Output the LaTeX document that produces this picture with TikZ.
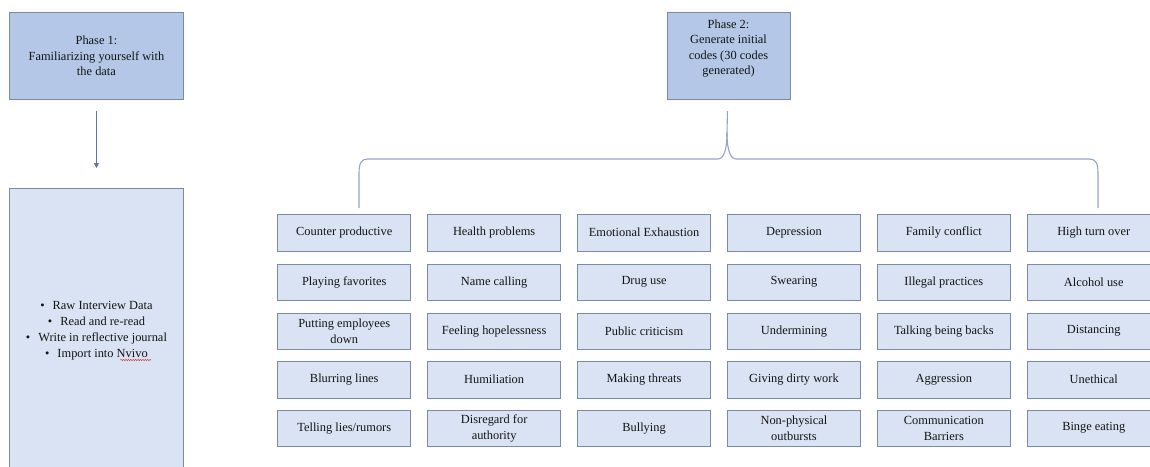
\documentclass[tikz,border=0pt]{standalone}
\usepackage{fontspec}
\setmainfont{Liberation Serif}
\newfontfamily\labelfont{Liberation Serif}
\usetikzlibrary{arrows.meta,decorations.pathmorphing,calc}
\definecolor{phasefill}{HTML}{B4C7E7}
\definecolor{codefill}{HTML}{DAE3F3}
\definecolor{boxline}{HTML}{7A8BA5}
\definecolor{braceline}{HTML}{93A5C2}
\definecolor{arrowline}{HTML}{5877AA}
\definecolor{inktext}{HTML}{141414}
\definecolor{spellred}{HTML}{D04040}
\begin{document}
\begin{tikzpicture}[x=1pt,y=-1pt,
  every node/.style={text=inktext, font=\labelfont\fontsize{12.4}{15.2}\selectfont},
  phasebox/.style={draw=boxline, line width=0.9pt, fill=phasefill, anchor=north west,
    inner sep=0pt, align=center},
  notebox/.style={draw=boxline, line width=0.9pt, fill=codefill, anchor=north west,
    inner sep=0pt, align=center, font=\labelfont\fontsize{12.4}{16}\selectfont},
  codebox/.style={draw=boxline, line width=0.9pt, fill=codefill, anchor=north west,
    minimum width=133pt, minimum height=36.5pt, inner sep=0pt, align=center,
    font=\labelfont\fontsize{12.4}{16}\selectfont},
  flow/.style={draw=arrowline, line width=1pt, -{Triangle[length=5pt,width=5pt]}},
  bracket/.style={draw=braceline, line width=1.1pt},
  spell/.style={draw=spellred, line width=0.5pt, decorate,
    decoration={snake, amplitude=0.7pt, segment length=2.4pt}}
]
\useasboundingbox (0,0) rectangle (1150,466);
\fill[white] (0,0) rectangle (1150,466);
\begin{scope}
\clip (0,0) rectangle (1150,466);

% Phase 1 and its notes
\node[phasebox, minimum width=173.4pt, minimum height=87pt] (p1) at (9.3,12)
  {Phase 1:\\Familiarizing yourself with\\the data};
\node[notebox, minimum width=173.4pt, minimum height=284pt] (notes) at (9.3,188)
  {\textbullet\hspace{8pt}Raw Interview Data\\
   \textbullet\hspace{8pt}Read and re-read\\
   \textbullet\hspace{8pt}Write in reflective journal\\
   \textbullet\hspace{8pt}Import into Nvivo};
\draw[flow, shorten <=11pt, shorten >=20pt] (p1.south) -- (notes.north);
\draw[spell] (120.5,360) -- (151,360);

% Phase 2
\node[phasebox, minimum width=123pt, minimum height=87.3pt] (p2) at (667,12) {};
\node[align=center] (p2text) at (728.5,48.5)
  {Phase 2:\\Generate initial\\codes (30 codes\\generated)};

% brace spanning the generated codes
\coordinate (btip) at ($(p2.south)+(-1.5,11)$);
\draw[bracket] (359,208) -- (359,173)
  .. controls (359,162) and (362,159) .. (368,159) -- (718,159)
  .. controls (724,159) and (727,149) .. (727,133) -- (btip);
\draw[bracket] (727,133)
  .. controls (727,149) and (730,159) .. (736,159) -- (1089,159)
  .. controls (1095,159) and (1098,162) .. (1098,173) -- (1098,208);

% the thirty initial codes
\foreach \t [count=\i from 0] in {Counter productive, Health problems,
    Emotional Exhaustion, Depression, Family conflict, High turn over}
  \node[codebox] (r1c\i) at (277.3+149.9*\i, 214) {\t};
\foreach \t [count=\i from 0] in {Playing favorites, Name calling, Drug use,
    Swearing, Illegal practices, Alcohol use}
  \node[codebox] (r2c\i) at (277.3+149.9*\i, 263.5) {\t};
\foreach \t [count=\i from 0] in {{Putting employees\\down}, Feeling hopelessness,
    Public criticism, Undermining, Talking being backs, Distancing}
  \node[codebox] (r3c\i) at (277.3+149.9*\i, 312.5) {\t};
\foreach \t [count=\i from 0] in {Blurring lines, Humiliation, Making threats,
    Giving dirty work, Aggression, Unethical}
  \node[codebox] (r4c\i) at (277.3+149.9*\i, 361) {\t};
\foreach \t [count=\i from 0] in {Telling lies/rumors, {Disregard for\\authority},
    Bullying, {Non-physical\\outbursts}, {Communication\\Barriers}, Binge eating}
  \node[codebox] (r5c\i) at (277.3+149.9*\i, 409.5) {\t};
\end{scope}
\end{tikzpicture}
\end{document}
